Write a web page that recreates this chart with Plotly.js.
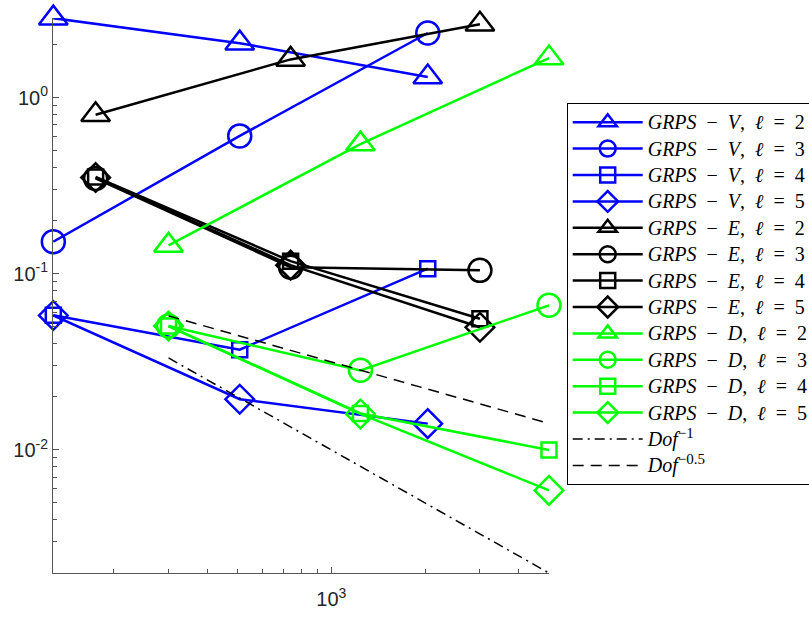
<!DOCTYPE html>
<html>
<head>
<meta charset="utf-8">
<script src="https://cdn.plot.ly/plotly-3.0.1.min.js"></script>
<style>html,body{margin:0;padding:0;background:#fff;}#chart{width:809px;height:617px;}</style>
</head>
<body>
<div id="chart"></div>
<script>
// Degrees of freedom (x) for each family
const dofV = [128, 508, 2040];
const dofE = [175, 740, 3000];
const dofD = [300, 1240, 5000];
const dofRef = [300, 5000];

// Error values
const V2 = [2.83, 2.04, 1.31];
const V3 = [0.152, 0.607, 2.33];
const V4 = [0.0581, 0.0371, 0.107];
const V5 = [0.058, 0.0194, 0.0141];
const E2 = [0.80, 1.65, 2.61];
const E3 = [0.348, 0.109, 0.1046];
const E4 = [0.355, 0.118, 0.0556];
const E5 = [0.352, 0.112, 0.0497];
const D2 = [0.145, 0.545, 1.68];
const D3 = [0.0505, 0.0283, 0.0662];
const D4 = [0.0505, 0.0161, 0.0100];
const D5 = [0.0505, 0.0160, 0.00589];
const rate1 = [0.0333, 0.002];
const rate05 = [0.0577, 0.01414];

const methods = ['V', 'E', 'D'];
const levels = ['2', '3', '4', '5'];
const S = '\u00A0\u00A0';
function grpsName(m, l) {
  return '<span style="font-size:20px"><i>GRPS</i>' + S + '−' + S + '<i>' + m + '</i>,' + S +
         '<i>ℓ</i>' + S + '=' + S + l + '</span>';
}
const refNames = ['<span style="font-size:20px"><i>Dof</i><sup><span style="font-size:15px">−1</span></sup></span>',
                  '<span style="font-size:20px"><i>Dof</i><sup><span style="font-size:15px">−0.5</span></sup></span>'];

const symbols = ['triangle-up-open', 'circle-open', 'square-open', 'diamond-open'];
const sizes = [25, 23, 15, 22];
const colors = ['#0000ff', '#000000', '#00ff00'];

const groups = [
  [dofV, [V2, V3, V4, V5]],
  [dofE, [E2, E3, E4, E5]],
  [dofD, [D2, D3, D4, D5]]
];

const traces = [];
groups.forEach((g, gi) => {
  g[1].forEach((ys, si) => {
    traces.push({
      x: g[0], y: ys, name: grpsName(methods[gi], levels[si]), type: 'scatter', mode: 'lines+markers',
      cliponaxis: false,
      line: {color: colors[gi], width: 2.5},
      marker: {symbol: symbols[si], size: sizes[si], color: colors[gi], line: {color: colors[gi], width: 2.5}}
    });
  });
});
traces.push({x: dofRef, y: rate1, name: refNames[0], type: 'scatter', mode: 'lines', cliponaxis: false,
  line: {color: '#000', width: 1.5, dash: '10px,5px,2px,5px'}});
traces.push({x: dofRef, y: rate05, name: refNames[1], type: 'scatter', mode: 'lines', cliponaxis: false,
  line: {color: '#000', width: 1.5, dash: '11px,7px'}});

const axisColor = '#555555';
const layout = {
  width: 809, height: 617,
  margin: {l: 53, r: 260, t: 18, b: 44, autoexpand: false},
  paper_bgcolor: '#fff', plot_bgcolor: '#fff',
  showlegend: true,
  font: {family: 'Liberation Sans, Arial, sans-serif', size: 18, color: '#262626'},
  xaxis: {
    type: 'log', range: [Math.log10(127.7), Math.log10(5000)],
    showline: true, linecolor: axisColor, linewidth: 1, mirror: false,
    showgrid: false, zeroline: false,
    ticks: 'inside', ticklen: 6, tickcolor: axisColor,
    tickvals: [1000], ticktext: ['10<sup>3</sup>'], ticklabelstandoff: 8,
    minor: {ticks: 'inside', ticklen: 4, tickcolor: axisColor,
      tickvals: [200, 300, 400, 500, 600, 700, 800, 900, 2000, 3000, 4000, 5000]},
    tickfont: {size: 20, color: '#262626'}
  },
  yaxis: {
    type: 'log', range: [Math.log10(0.002), Math.log10(2.835)],
    showline: true, linecolor: axisColor, linewidth: 1, mirror: false,
    showgrid: false, zeroline: false,
    ticks: 'inside', ticklen: 6, tickcolor: axisColor,
    tickvals: [0.01, 0.1, 1], ticktext: ['10<sup>-2</sup>', '10<sup>-1</sup>', '10<sup>0</sup>'],
    minor: {ticks: 'inside', ticklen: 4, tickcolor: axisColor,
      tickvals: [0.002, 0.003, 0.004, 0.005, 0.006, 0.007, 0.008, 0.009,
                 0.02, 0.03, 0.04, 0.05, 0.06, 0.07, 0.08, 0.09,
                 0.2, 0.3, 0.4, 0.5, 0.6, 0.7, 0.8, 0.9, 2]},
    tickfont: {size: 20, color: '#262626'}
  },
  legend: {
    x: (566.7 - 53) / 496, xanchor: 'left',
    y: (573 - 103) / 555, yanchor: 'top',
    bgcolor: '#ffffff', bordercolor: '#000000', borderwidth: 1,
    font: {family: 'Liberation Serif, DejaVu Serif, serif', size: 18, color: '#000'},
    itemwidth: 70, tracegroupgap: 0
  }
};

Plotly.newPlot('chart', traces, layout, {staticPlot: true});
</script>
</body>
</html>
